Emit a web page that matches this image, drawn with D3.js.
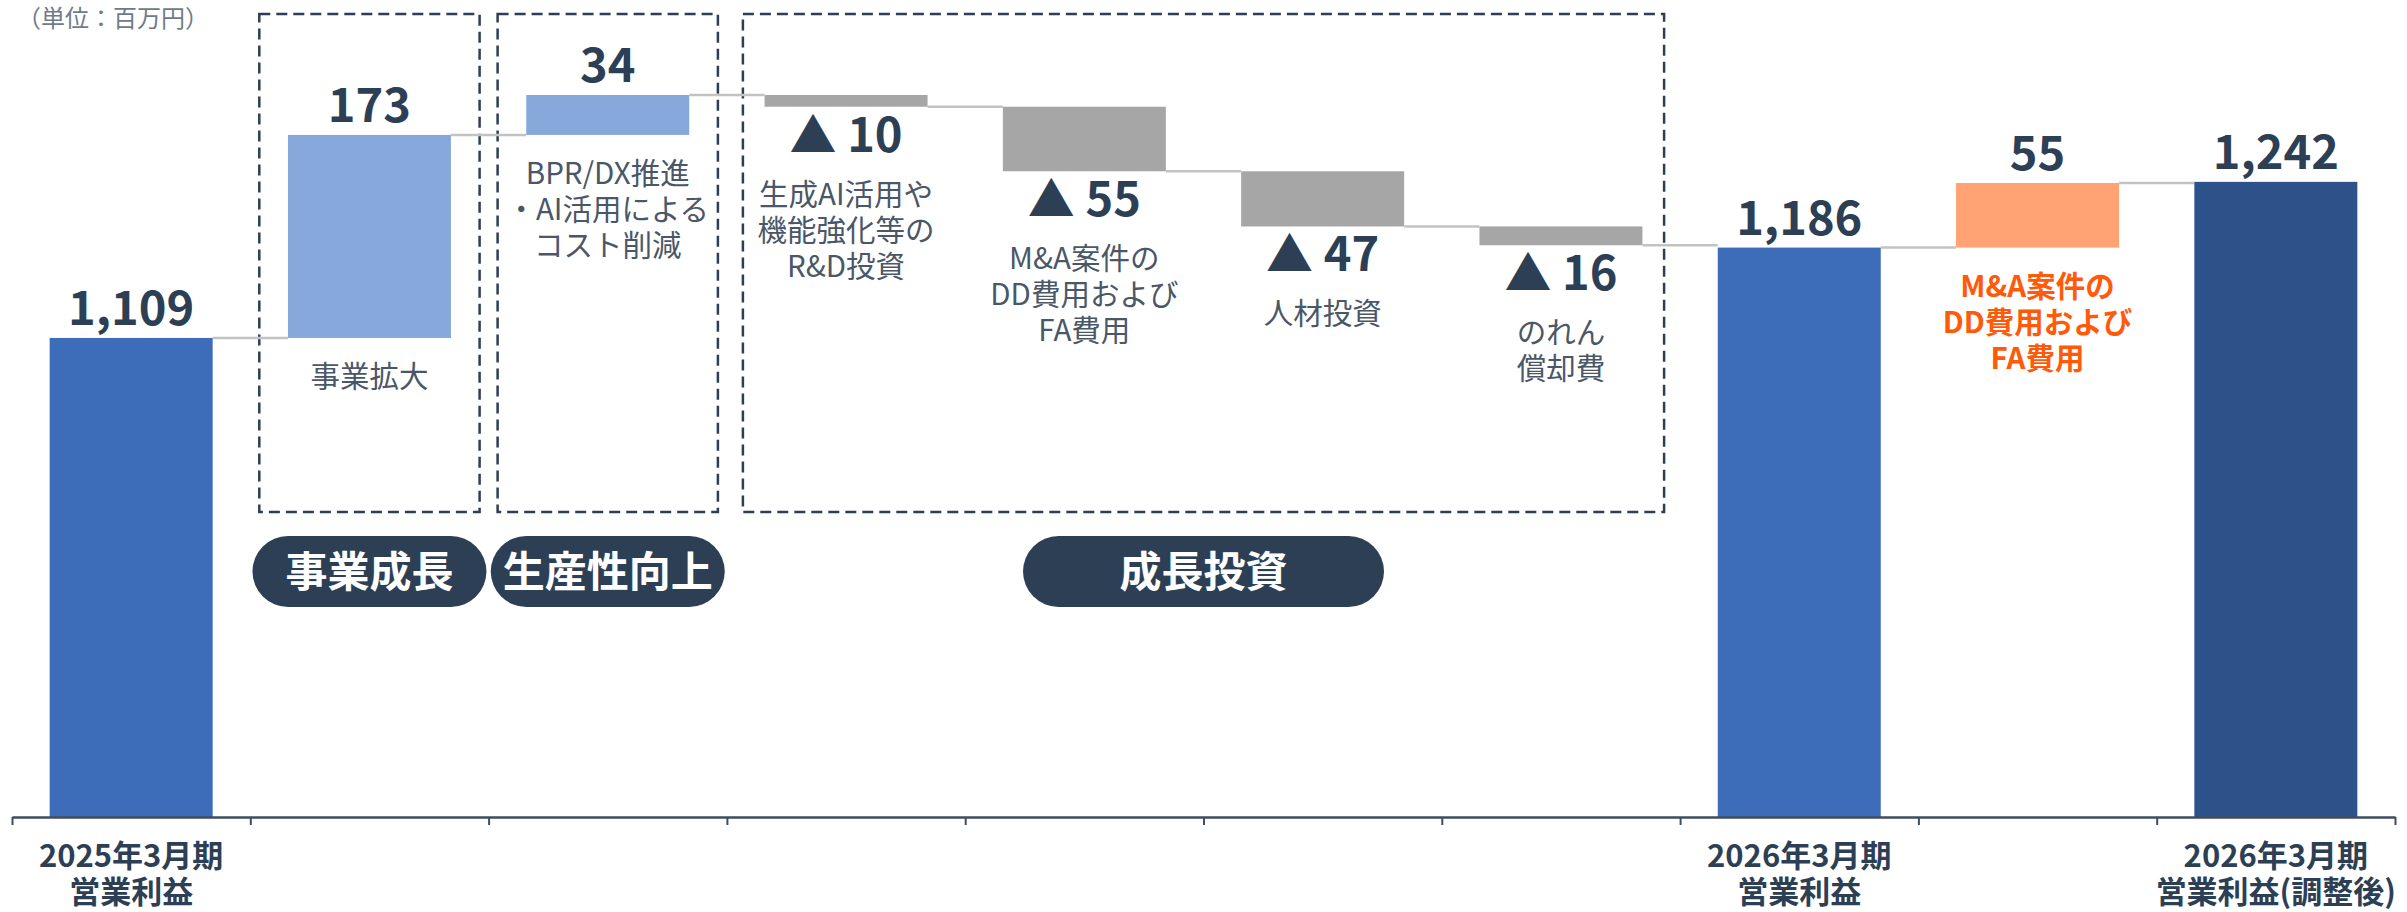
<!DOCTYPE html>
<html>
<head>
<meta charset="utf-8">
<script src="https://cdn.jsdelivr.net/npm/d3@7"></script>
<style>
  body { margin: 0; background: #fff; }
  text { font-family: "Noto Sans CJK JP", "Noto Sans", sans-serif; }
</style>
</head>
<body>
<svg id="chart" width="2407" height="912"></svg>
<script>
// 数据
const steps = ["start", "bizExpand", "costCut", "rnd", "maCost", "hr", "goodwill", "total2026", "maAddBack", "adjusted2026"];
const values = [1109, 173, 34, -10, -55, -47, -16, 1186, 55, 1242];
const kinds = ["total", "up", "up", "down", "down", "down", "down", "total", "adjust", "final"];
const axisLabels = [
  ["2025年3月期", "営業利益"], [], [], [], [], [], [],
  ["2026年3月期", "営業利益"], [],
  ["2026年3月期", "営業利益(調整後)"]
];
const notes = [
  [], ["事業拡大"], ["BPR/DX推進", "・AI活用による", "コスト削減"],
  ["生成AI活用や", "機能強化等の", "R&D投資"], ["M&A案件の", "DD費用および", "FA費用"],
  ["人材投資"], ["のれん", "償却費"], [], ["M&A案件の", "DD費用および", "FA費用"], []
];
const groupNames = ["事業成長", "生産性向上", "成長投資"];
const groupFrom = [1, 2, 3];
const groupTo = [1, 2, 6];
const unitLabel = "（単位：百万円）";

const colors = {
  total: "#3d6cb9", final: "#2d5289", up: "#87a8da",
  down: "#a6a6a6", adjust: "#ffa274"
};
const navy = "#2d3f55";

const svg = d3.select("#chart");

const x = d3.scaleBand().domain(steps).range([12, 2395])
  .paddingInner(0.316).paddingOuter(0.158);
const y = d3.scaleLinear().domain([700, 1316]).range([818, 95]);

// 计算瀑布区间
let run = 0;
const bars = values.map((v, i) => {
  let lo, hi, end;
  if (kinds[i] === "total" || kinds[i] === "final") {
    lo = 700; hi = v; end = v;
  } else {
    const s = run; end = run + v;
    lo = Math.min(s, end); hi = Math.max(s, end);
  }
  run = end;
  return { key: steps[i], v: v, kind: kinds[i], lo: lo, hi: hi, end: end, i: i };
});

// 单位
svg.append("text").attr("x", 17).attr("y", 27)
  .attr("font-size", 24).attr("fill", "#6f7b8a").text(unitLabel);

// 虚线框
const boxes = svg.append("g");
groupNames.forEach((g, k) => {
  const inset = groupTo[k] > groupFrom[k] ? 16 : 9;
  const x0 = x.range()[0] + groupFrom[k] * x.step() + inset;
  const x1 = x.range()[0] + (groupTo[k] + 1) * x.step() - inset;
  boxes.append("rect")
    .attr("x", x0).attr("y", 14).attr("width", x1 - x0).attr("height", 498)
    .attr("fill", "none").attr("stroke", navy).attr("stroke-width", 2.5)
    .attr("stroke-dasharray", "11,6");
  // 标签胶囊
  const cx = (x0 + x1) / 2;
  const w = groupTo[k] > groupFrom[k] ? 361 : 234;
  boxes.append("rect")
    .attr("x", cx - w / 2).attr("y", 536).attr("width", w).attr("height", 71)
    .attr("rx", 35.5).attr("fill", navy);
  boxes.append("text")
    .attr("x", cx).attr("y", 571.5).attr("dy", "0.36em")
    .attr("text-anchor", "middle").attr("font-size", 42).attr("font-weight", 700)
    .attr("fill", "#fff").text(g);
});

// 连接线
const conn = svg.append("g");
bars.forEach((b, i) => {
  if (i === bars.length - 1) return;
  const nb = bars[i + 1];
  conn.append("line")
    .attr("x1", x(b.key) + x.bandwidth()).attr("x2", x(nb.key))
    .attr("y1", y(b.end)).attr("y2", y(b.end))
    .attr("stroke", "#c3c3c3").attr("stroke-width", 2.5);
});

// 柱子
svg.append("g").selectAll("rect").data(bars).join("rect")
  .attr("x", d => x(d.key)).attr("width", x.bandwidth())
  .attr("y", d => y(d.hi)).attr("height", d => y(d.lo) - y(d.hi))
  .attr("fill", d => colors[d.kind]);

// 数值标签
const fmt = d3.format(",");
const labels = svg.append("g");
bars.forEach(b => {
  const cx = x(b.key) + x.bandwidth() / 2;
  if (b.kind === "down") {
    labels.append("text").attr("x", cx).attr("y", y(b.lo) + 45)
      .attr("text-anchor", "middle").attr("font-size", 47).attr("font-weight", 700)
      .attr("fill", navy).text("▲ " + fmt(-b.v));
  } else {
    labels.append("text").attr("x", cx).attr("y", y(b.hi) - 13)
      .attr("text-anchor", "middle").attr("font-size", 47).attr("font-weight", 700)
      .attr("fill", navy).text(fmt(b.v));
  }
  // 说明
  const lines = notes[b.i];
  if (!lines.length) return;
  const base = b.kind === "down" ? y(b.lo) + 98 : y(b.lo) + 49;
  const orange = b.kind === "adjust";
  lines.forEach((ln, j) => {
    labels.append("text").attr("x", cx).attr("y", base + j * 36)
      .attr("text-anchor", "middle").attr("font-size", 29.5)
      .attr("font-weight", orange ? 700 : 400)
      .attr("fill", orange ? "#ff5a0a" : "#4a5768").text(ln);
  });
});

// 坐标轴
const axisScale = d3.scaleLinear().domain([0, steps.length]).range(x.range());
const ax = svg.append("g").attr("transform", "translate(0,817)")
  .call(d3.axisBottom(axisScale).tickValues(d3.range(steps.length + 1))
    .tickSize(8).tickSizeOuter(0).tickFormat(""));
ax.selectAll(".tick text").remove();
ax.select(".domain").attr("stroke", "#3e4d60").attr("stroke-width", 2.5);
ax.selectAll(".tick line").attr("stroke", "#3e4d60").attr("stroke-width", 2);

// 横轴标签（两行）
const xl = svg.append("g");
axisLabels.forEach((ls, i) => {
  if (!ls.length) return;
  const cx = x(steps[i]) + x.bandwidth() / 2;
  const t = xl.append("text").attr("y", 867)
    .attr("text-anchor", "middle").attr("font-size", 31).attr("font-weight", 700)
    .attr("fill", navy);
  ls.forEach((s, j) => {
    t.append("tspan").attr("x", cx).attr("dy", j === 0 ? 0 : 36).text(s);
  });
});
</script>
</body>
</html>
